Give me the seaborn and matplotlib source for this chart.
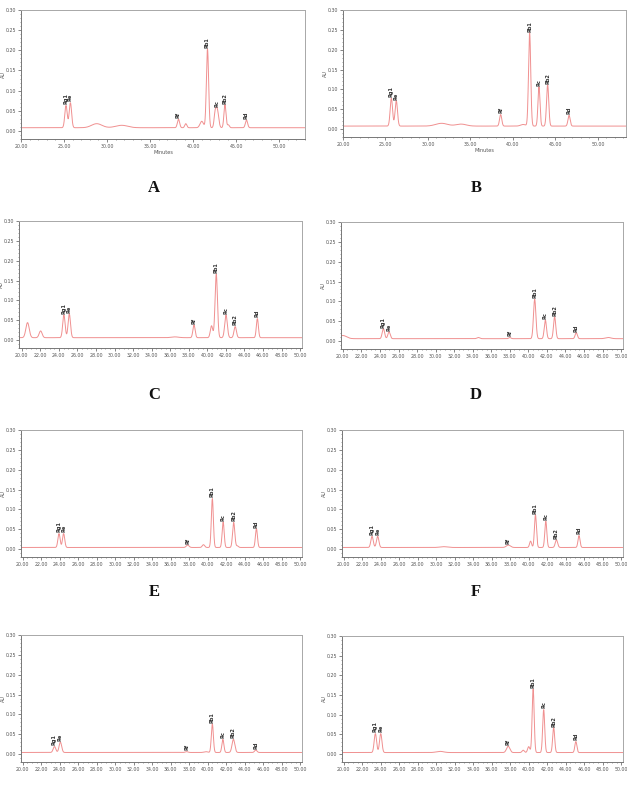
import numpy as np
import pandas as pd
import matplotlib
matplotlib.use("Agg")
import matplotlib.pyplot as plt
import seaborn as sns
from matplotlib.ticker import MultipleLocator, FormatStrFormatter

sns.set_style("white")
plt.rcParams['font.family'] = ['DejaVu Sans']

# ---------------- data ----------------
panel_ids = ["A", "B", "C", "D", "E", "F", "G", "H"]
peak_names = ["Rg1", "Re", "Rf", "Rb1", "Rc", "Rb2", "Rd"]

# labelled peaks: retention time (min), apex height above baseline (AU), sigma (min)
rt_A = [25.23, 25.74, 38.30, 41.67, 42.80, 43.70, 46.20]
ht_A = [0.055, 0.062, 0.021, 0.195, 0.045, 0.057, 0.019]
sd_A = [0.14, 0.14, 0.13, 0.13, 0.16, 0.12, 0.13]

rt_B = [25.69, 26.27, 38.55, 41.96, 43.06, 44.08, 46.60]
ht_B = [0.070, 0.064, 0.029, 0.235, 0.099, 0.104, 0.027]
sd_B = [0.14, 0.14, 0.13, 0.13, 0.12, 0.13, 0.13]

rt_C = [24.54, 25.12, 38.56, 40.96, 42.01, 43.00, 45.39]
ht_C = [0.057, 0.060, 0.032, 0.160, 0.057, 0.028, 0.048]
sd_C = [0.13, 0.13, 0.12, 0.13, 0.14, 0.13, 0.11]

rt_D = [24.37, 24.98, 38.00, 40.68, 41.83, 42.83, 45.16]
ht_D = [0.025, 0.017, 0.003, 0.099, 0.047, 0.055, 0.015]
sd_D = [0.13, 0.13, 0.12, 0.13, 0.12, 0.12, 0.12]

rt_E = [23.91, 24.41, 37.83, 40.50, 41.67, 42.81, 45.27]
ht_E = [0.035, 0.035, 0.006, 0.123, 0.064, 0.063, 0.047]
sd_E = [0.12, 0.12, 0.15, 0.11, 0.11, 0.12, 0.11]

rt_F = [23.05, 23.66, 37.80, 40.73, 41.85, 43.00, 45.44]
ht_F = [0.028, 0.028, 0.006, 0.082, 0.066, 0.019, 0.030]
sd_F = [0.13, 0.13, 0.22, 0.11, 0.11, 0.13, 0.11]

rt_G = [23.42, 24.06, 37.72, 40.50, 41.64, 42.78, 45.20]
ht_G = [0.015, 0.026, 0.002, 0.072, 0.033, 0.033, 0.006]
sd_G = [0.14, 0.14, 0.15, 0.11, 0.11, 0.15, 0.13]

rt_H = [23.41, 23.99, 37.78, 40.48, 41.62, 42.70, 45.10]
ht_H = [0.048, 0.048, 0.016, 0.161, 0.109, 0.063, 0.028]
sd_H = [0.13, 0.13, 0.18, 0.11, 0.11, 0.11, 0.11]

# unlabelled minor peaks / humps: retention time, height, sigma
mrt_A = [28.8, 31.7, 39.15, 41.0, 42.55, 44.1]
mht_A = [0.010, 0.006, 0.010, 0.016, 0.030, 0.007]
msd_A = [0.6, 0.7, 0.12, 0.2, 0.12, 0.12]

mrt_B = [31.6, 33.9, 41.2]
mht_B = [0.007, 0.005, 0.004]
msd_B = [0.7, 0.6, 0.3]

mrt_C = [20.62, 22.03, 40.45, 36.5]
mht_C = [0.038, 0.017, 0.030, 0.002]
msd_C = [0.18, 0.16, 0.13, 0.4]

mrt_D = [20.0, 34.6, 48.6]
mht_D = [0.008, 0.003, 0.003]
msd_D = [0.4, 0.15, 0.3]

mrt_E = [39.54, 43.2]
mht_E = [0.007, 0.004]
msd_E = [0.13, 0.12]

mrt_F = [30.8, 40.2]
mht_F = [0.002, 0.016]
msd_F = [0.4, 0.11]

mrt_G = [39.8]
mht_G = [0.002]
msd_G = [0.2]

mrt_H = [30.4, 39.4, 40.0]
mht_H = [0.003, 0.006, 0.015]
msd_H = [0.4, 0.12, 0.12]

baseline = [0.008, 0.0075, 0.006, 0.006, 0.004, 0.004, 0.004, 0.004]
x_max = [53.0, 53.3, 50.2, 50.2, 50.2, 50.2, 50.2, 50.2]
x_min = [20.0, 20.0, 19.7, 19.8, 19.8, 19.8, 19.8, 19.8]

main_peaks = [(rt_A, ht_A, sd_A), (rt_B, ht_B, sd_B), (rt_C, ht_C, sd_C), (rt_D, ht_D, sd_D),
              (rt_E, ht_E, sd_E), (rt_F, ht_F, sd_F), (rt_G, ht_G, sd_G), (rt_H, ht_H, sd_H)]
minor_peaks = [(mrt_A, mht_A, msd_A), (mrt_B, mht_B, msd_B), (mrt_C, mht_C, msd_C), (mrt_D, mht_D, msd_D),
               (mrt_E, mht_E, msd_E), (mrt_F, mht_F, msd_F), (mrt_G, mht_G, msd_G), (mrt_H, mht_H, msd_H)]

# ---------------- layout ----------------
W, H = 627, 794
boxes_px = [(21, 10, 305, 139), (343, 10, 626, 137),
            (19, 221, 302, 348), (341, 222, 623, 349),
            (21, 430, 302, 557), (342, 430, 623, 557),
            (21, 635, 302, 762), (342, 636, 623, 762)]
letter_px = [(154, 188), (476, 188), (154, 395), (476, 395), (154, 592), (476, 592)]

fig = plt.figure(figsize=(W / 100, H / 100), dpi=100)
line_col = "#f09090"
spine_col = "#a8a8a8"
txt_col = "#555555"

for i, pid in enumerate(panel_ids):
    l, t, r, b = boxes_px[i]
    ax = fig.add_axes([l / W, 1 - b / H, (r - l) / W, (b - t) / H])
    t_grid = np.linspace(x_min[i], x_max[i], 3000)
    y = np.full_like(t_grid, baseline[i])
    rts, hts, sds = main_peaks[i]
    for c, h, s in zip(rts, hts, sds):
        y += h * np.exp(-0.5 * ((t_grid - c) / s) ** 2)
    mrts, mhts, msds = minor_peaks[i]
    for c, h, s in zip(mrts, mhts, msds):
        y += h * np.exp(-0.5 * ((t_grid - c) / s) ** 2)
    df = pd.DataFrame({"t": t_grid, "au": y})
    sns.lineplot(data=df, x="t", y="au", ax=ax, color=line_col, linewidth=0.7)

    # peak labels
    for name, c, h, s in zip(peak_names, rts, hts, sds):
        yy = np.interp(c, t_grid, y)
        ax.text(c, yy + 0.003, name, rotation=90, ha="center", va="bottom",
                fontsize=3.6, fontweight="bold", color="#333333")

    ax.set_xlim(x_min[i], x_max[i])
    ax.set_ylim(-0.02, 0.30)
    ax.yaxis.set_major_locator(MultipleLocator(0.05))
    ax.yaxis.set_minor_locator(MultipleLocator(0.01))
    ax.yaxis.set_major_formatter(FormatStrFormatter("%.2f"))
    if i < 2:
        ax.xaxis.set_major_locator(MultipleLocator(5))
        ax.xaxis.set_minor_locator(MultipleLocator(1))
        ax.set_xlabel("Minutes", fontsize=3.6, color=txt_col, labelpad=1)
    else:
        ax.xaxis.set_major_locator(MultipleLocator(2))
        ax.xaxis.set_minor_locator(MultipleLocator(0.5))
        ax.set_xlabel("")
    ax.xaxis.set_major_formatter(FormatStrFormatter("%.2f"))
    ax.set_ylabel("AU", fontsize=3.6, color=txt_col)
    ax.yaxis.set_label_coords(-0.052, 0.5)
    ax.tick_params(axis="both", which="major", labelsize=3.4, colors=txt_col,
                   length=2, width=0.5, pad=1.5, direction="out")
    ax.tick_params(axis="both", which="minor", length=1, width=0.4, colors=txt_col, direction="out")
    ax.tick_params(left=True, bottom=True, top=False, right=False, which="both")
    for sp in ax.spines.values():
        sp.set_color(spine_col)
        sp.set_linewidth(0.7)
    ax.spines["left"].set_color("#777777")
    ax.spines["bottom"].set_color("#777777")

for j, (lx, ly) in enumerate(letter_px):
    fig.text(lx / W, 1 - ly / H, panel_ids[j], ha="center", va="center",
             fontsize=12, fontweight="bold", family=["Liberation Serif"], color="#111111")

fig.savefig("out.png", dpi=100, facecolor="white")
